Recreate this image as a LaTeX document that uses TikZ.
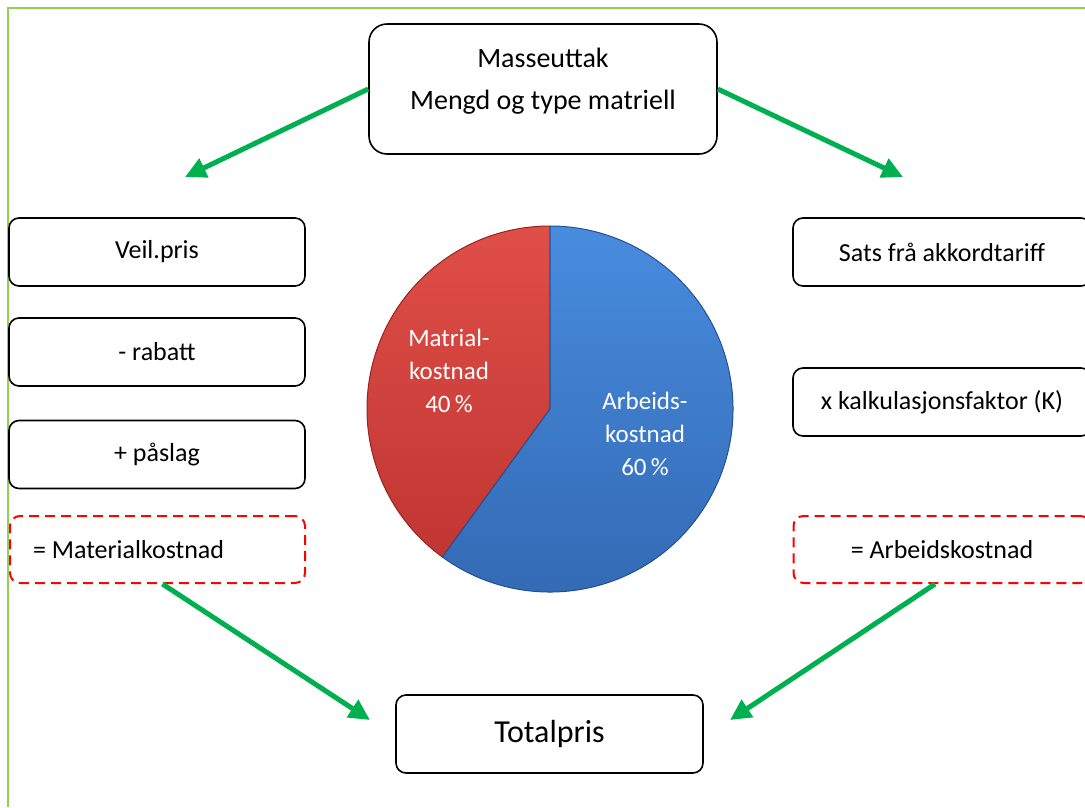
\documentclass[tikz,border=0pt]{standalone}
\usepackage{fontspec}
\setmainfont{Carlito}
\usetikzlibrary{arrows.meta}
\definecolor{framegreen}{RGB}{146,208,80}
\definecolor{arrowgreen}{RGB}{0,176,80}
\definecolor{piered}{RGB}{192,54,50}
\definecolor{pieredlight}{RGB}{224,78,72}
\definecolor{pierededge}{RGB}{150,36,32}
\definecolor{pieblue}{RGB}{50,104,178}
\definecolor{piebluelight}{RGB}{72,140,222}
\definecolor{pieblueedge}{RGB}{36,80,150}
\tikzset{
  roundbox/.style={draw=black, line width=1.6pt, rounded corners=10pt, fill=white,
    font=\fontsize{26}{31}\selectfont, inner sep=0pt},
  dashbox/.style={draw=red, line width=2pt, dash pattern=on 10pt off 6pt,
    rounded corners=10pt, font=\fontsize{26}{31}\selectfont, inner sep=0pt},
  garrow/.style={draw=arrowgreen, line width=5pt, -{Triangle[length=21pt,width=20pt]}},
  pietext/.style={text=white, font=\fontsize{25}{33}\selectfont, align=center}
}
\begin{document}
\begin{tikzpicture}[x=1pt,y=-1pt]
\useasboundingbox (0,0) rectangle (1085,807);
\fill[white] (0,0) rectangle (1085,807);
\draw[framegreen, line width=2.5pt] (8,807) -- (8,8) -- (1085,8);

% top box
\node[roundbox, rounded corners=18pt, minimum width=348pt, minimum height=130pt] (top) at (543,89) {};
\node[font=\fontsize{28}{42}\selectfont, align=center] (toptext) at (543,81) {Masseuttak\\Mengd og type matriell};

% left column
\node[roundbox, minimum width=296pt, minimum height=68pt] (veil) at (157,252) {Veil.pris};
\node[roundbox, minimum width=296pt, minimum height=68pt] (rabatt) at (157,352) {- rabatt};
\node[roundbox, minimum width=296pt, minimum height=68pt] (paslag) at (157,454.5) {+ påslag};
\node[dashbox, minimum width=295pt, minimum height=67pt] (matk) at (157.5,549.5) {\makebox[249pt][l]{= Materialkostnad}};

% right column
\node[roundbox, minimum width=298pt, minimum height=68pt] (sats) at (942,252) {Sats frå akkordtariff};
\node[roundbox, minimum width=298pt, minimum height=68pt] (kalk) at (942,402) {x kalkulasjonsfaktor (K)};
\node[dashbox, minimum width=297pt, minimum height=67pt] (arbk) at (942,549.5) {= Arbeidskostnad};

% total
\node[roundbox, minimum width=307pt, minimum height=78pt, font=\fontsize{32}{38}\selectfont] (total) at (549.5,734) {Totalpris};

% pie
\coordinate (pc) at (550,409);
\shade[top color=pieredlight, bottom color=piered, draw=pierededge, line width=1pt]
  (pc) -- ++(-90:183) arc[start angle=-90, end angle=-234, radius=183] -- cycle;
\shade[top color=piebluelight, bottom color=pieblue, draw=pieblueedge, line width=1pt]
  (pc) -- ++(-234:183) arc[start angle=-234, end angle=-450, radius=183] -- cycle;
\node[pietext] (redlabel) at (449,371) {Matrial-\\kostnad\\40\,\%};
\node[pietext] (bluelabel) at (645,434) {Arbeids-\\kostnad\\60\,\%};

% arrows
\coordinate (tl) at (185,177);
\coordinate (tr) at (903,177);
\coordinate (bl) at (370,720);
\coordinate (br) at (730,720);
\draw[garrow] (top.west) -- (tl);
\draw[garrow] (top.east) -- (tr);
\draw[garrow] ([xshift=5pt]matk.south) -- (bl);
\draw[garrow] ([xshift=-7pt]arbk.south) -- (br);
\end{tikzpicture}
\end{document}
